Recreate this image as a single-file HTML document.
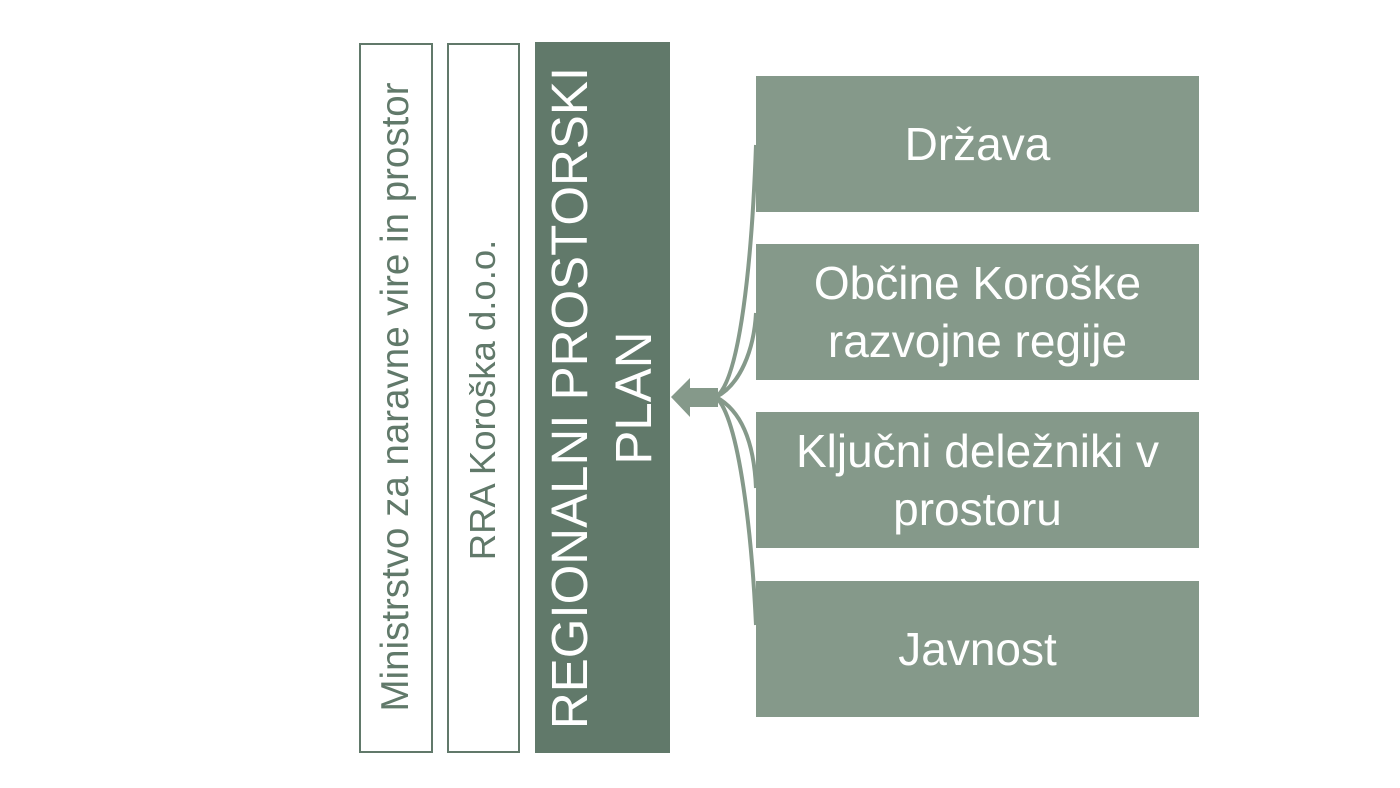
<!DOCTYPE html>
<html><head><style>
body{margin:0;width:1400px;height:788px;background:#fff;position:relative;overflow:hidden;font-family:"Liberation Sans",sans-serif}
.b{position:absolute;box-sizing:border-box}
.v{position:absolute;transform:rotate(-90deg);transform-origin:center;white-space:nowrap;text-align:center}
.r{position:absolute;left:756px;width:443px;height:136px;background:#85998a;color:#fff;font-size:46px;display:flex;align-items:center;justify-content:center;text-align:center;line-height:58px}
</style></head><body>
<div class="b" style="left:359px;top:43px;width:74px;height:710px;border:2px solid #61796a"></div>
<div class="b" style="left:447px;top:43px;width:73px;height:710px;border:2px solid #61796a"></div>
<div class="b" style="left:535px;top:42px;width:135px;height:711px;background:#61796a"></div>
<div class="v" style="left:46px;top:377px;width:700px;height:40px;font-size:38.5px;color:#61796a;line-height:40px">Ministrstvo za naravne vire in prostor</div>
<div class="v" style="left:133px;top:380px;width:700px;height:40px;font-size:36.5px;color:#61796a;line-height:40px">RRA Koroška d.o.o.</div>
<div class="v" style="left:250px;top:336px;width:700px;height:124px;font-size:51px;color:#fff;line-height:64px">REGIONALNI PROSTORSKI<br>PLAN</div>
<div class="r" style="top:76px">Država</div>
<div class="r" style="top:244px">Občine Koroške<br>razvojne regije</div>
<div class="r" style="top:412px">Ključni deležniki v<br>prostoru</div>
<div class="r" style="top:581px">Javnost</div>
<svg width="1400" height="788" style="position:absolute;left:0;top:0">
<g fill="none" stroke="#85998a" stroke-width="4">
<path d="M716 397 C740 380 752 260 756 145"/>
<path d="M716 397 C740 385 754 350 756 313"/>
<path d="M716 397 C740 410 754 440 756 488"/>
<path d="M716 397 C740 420 752 540 756 625"/>
</g>
<polygon points="671,397 690,378 690,388 718,388 718,407 690,407 690,417" fill="#85998a"/>
</svg>
</body></html>
